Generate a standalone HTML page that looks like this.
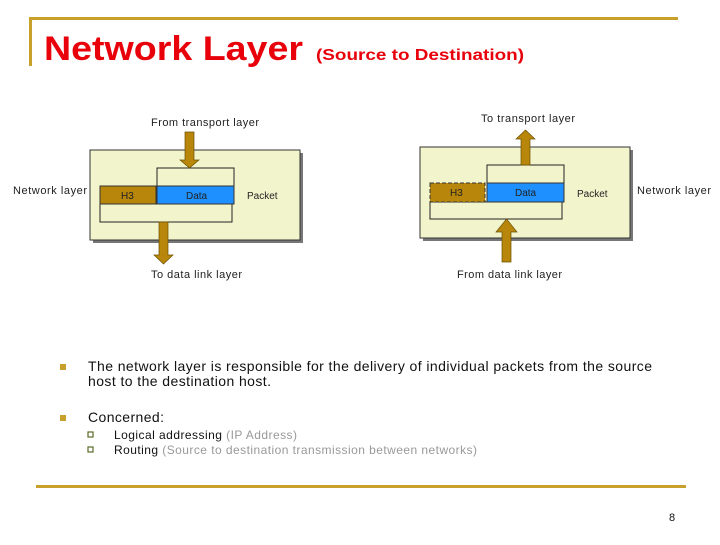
<!DOCTYPE html>
<html><head><meta charset="utf-8"><style>
body{margin:0;background:#fff;}
svg text{font-family:"Liberation Sans",Arial,sans-serif;}
</style></head><body>
<svg width="720" height="540" viewBox="0 0 720 540" xmlns="http://www.w3.org/2000/svg">
<rect x="30" y="17" width="648" height="3" fill="#C8A02C"/>
<rect x="29" y="17" width="3" height="49" fill="#C8A02C"/>
<text x="44" y="60" font-size="34" font-weight="bold" fill="#E8000B" textLength="259" lengthAdjust="spacingAndGlyphs">Network Layer</text>
<text x="316" y="60" font-size="16" font-weight="bold" fill="#E8000B" textLength="208" lengthAdjust="spacingAndGlyphs">(Source to Destination)</text>

<!-- left box -->
<rect x="93" y="153" width="210" height="90" fill="#777"/>
<rect x="90" y="150" width="210" height="90" fill="#F2F5CC" stroke="#333" stroke-width="1"/>
<rect x="157" y="168" width="77" height="18" fill="#F2F5CC" stroke="#222"/>
<rect x="100" y="204" width="132" height="18" fill="#F2F5CC" stroke="#222"/>
<rect x="100" y="186" width="56" height="18" fill="#B8860B" stroke="#333"/>
<rect x="157" y="186" width="77" height="18" fill="#1E90FF" stroke="#333"/>
<text x="121" y="199" font-size="10" fill="#222">H3</text>
<text x="186" y="199" font-size="10" fill="#222">Data</text>
<text x="247" y="199" font-size="10" fill="#222">Packet</text>
<polygon points="185,132 194,132 194,160 199,160 189.5,168 180,160 185,160" fill="#B8860B" stroke="#6b5000" stroke-width="0.7"/>
<polygon points="159,222 168,222 168,255 173,255 163.5,264 154,255 159,255" fill="#B8860B" stroke="#6b5000" stroke-width="0.7"/>
<text x="151" y="126" font-size="11" fill="#222" textLength="108">From transport layer</text>
<text x="151" y="278" font-size="11" fill="#222" textLength="91">To data link layer</text>
<text x="13" y="194" font-size="11" fill="#222" textLength="74">Network layer</text>

<!-- right box -->
<rect x="423" y="150" width="210" height="91" fill="#777"/>
<rect x="420" y="147" width="210" height="91" fill="#F2F5CC" stroke="#333" stroke-width="1"/>
<rect x="487" y="165" width="77" height="18" fill="#F2F5CC" stroke="#222"/>
<rect x="430" y="202" width="132" height="17" fill="#F2F5CC" stroke="#222"/>
<rect x="430" y="183" width="55" height="19" fill="#B8860B" stroke="#333" stroke-dasharray="4,2"/>
<rect x="487" y="183" width="77" height="19" fill="#1E90FF" stroke="#333"/>
<text x="450" y="196" font-size="10" fill="#222">H3</text>
<text x="515" y="196" font-size="10" fill="#222">Data</text>
<text x="577" y="197" font-size="10" fill="#222">Packet</text>
<polygon points="521,165 530,165 530,139 535,139 525.5,130 516,139 521,139" fill="#B8860B" stroke="#6b5000" stroke-width="0.7"/>
<polygon points="502,262 511,262 511,232 517,232 506.5,219 496,232 502,232" fill="#B8860B" stroke="#6b5000" stroke-width="0.7"/>
<text x="481" y="122" font-size="11" fill="#222" textLength="94">To transport layer</text>
<text x="457" y="278" font-size="11" fill="#222" textLength="105">From data link layer</text>
<text x="637" y="194" font-size="11" fill="#222" textLength="74">Network layer</text>

<!-- bullets -->
<rect x="60" y="364" width="6" height="6" fill="#C8A02C"/>
<text x="88" y="371" font-size="14" fill="#111" textLength="564">The network layer is responsible for the delivery of individual packets from the source</text>
<text x="88" y="386" font-size="14" fill="#111" textLength="183">host to the destination host.</text>
<rect x="60" y="415" width="6" height="6" fill="#C8A02C"/>
<text x="88" y="422" font-size="14" fill="#111" textLength="76">Concerned:</text>
<rect x="88" y="432" width="5" height="5" fill="none" stroke="#5a6b2a" stroke-width="1.2"/>
<text x="114" y="439" font-size="12" fill="#111" textLength="183">Logical addressing <tspan fill="#999">(IP Address)</tspan></text>
<rect x="88" y="447" width="5" height="5" fill="none" stroke="#5a6b2a" stroke-width="1.2"/>
<text x="114" y="454" font-size="12" fill="#111" textLength="363">Routing <tspan fill="#999">(Source to destination transmission between networks)</tspan></text>

<rect x="36" y="485" width="650" height="3" fill="#C8A02C"/>
<text x="669" y="521" font-size="11" fill="#111">8</text>
</svg>
</body></html>
